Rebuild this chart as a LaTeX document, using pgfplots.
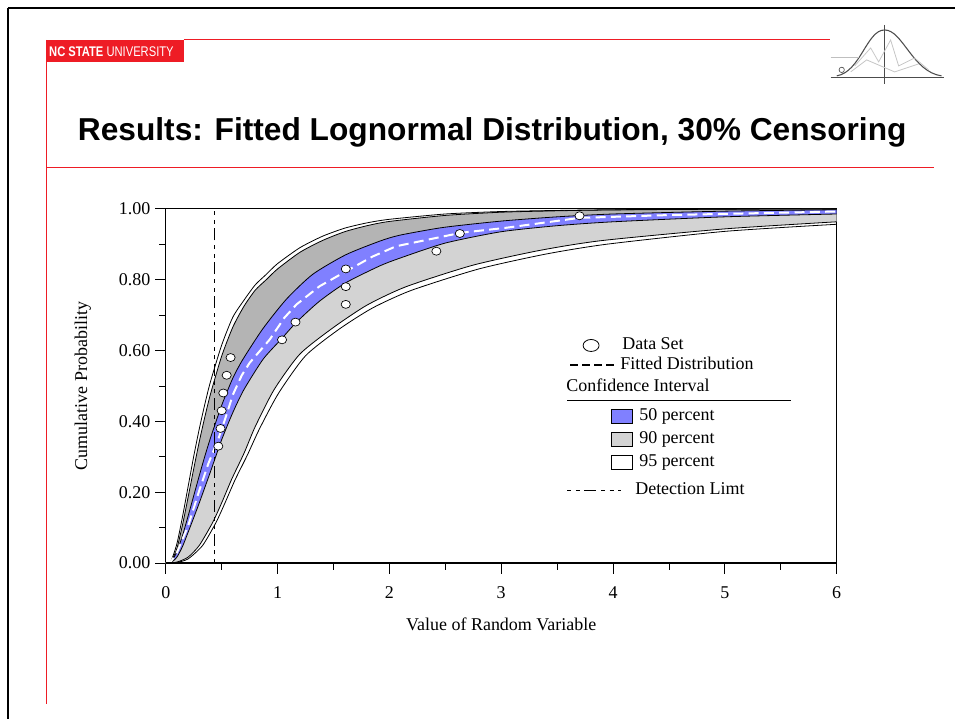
\documentclass[border=0pt]{standalone}
\usepackage{fontspec}
\setmainfont{Liberation Serif}
\newfontfamily\arialfont{Liberation Sans}
\usepackage{graphicx}
\usepackage{xcolor}
\usepackage{pgfplots}
\pgfplotsset{compat=1.18}
\usepgfplotslibrary{fillbetween}
\pagecolor{white}

\definecolor{bandblue}{HTML}{8080FF}
\definecolor{banddark}{HTML}{B4B4B4}
\definecolor{bandlight}{HTML}{D3D3D3}
\definecolor{ncred}{HTML}{EE1C25}

\tikzset{detlim/.style={black, line width=0.75pt, dash pattern=on 3pt off 3.5pt on 3pt off 3.5pt on 9pt off 3.5pt}}
\pgfplotsset{band/.style={black, line width=0.6pt, smooth, tension=0.4}}

\begin{document}
\begin{tikzpicture}
\path (0,0) rectangle (717pt,540pt);

% slide decorations, in pixel coordinates
\begin{scope}[yshift=540pt, x=0.75pt, y=-0.75pt]
  \draw[black, line width=2.2pt] (8,8) -- (956,8);
  \draw[black, line width=2.2pt] (8,8) -- (8,720);
  \draw[ncred, line width=0.8pt] (47,40) -- (47,705);
  \draw[ncred, line width=0.8pt] (184,40) -- (831,40);
  \draw[ncred, line width=0.8pt] (47,168) -- (935,168);
  \fill[ncred] (47,40) rectangle (184,62);
  \node[anchor=west, inner sep=0, text=white, font=\arialfont\fontsize{10.5}{12}\selectfont]
    at (49,51.5) {\scalebox{0.8}[1]{\textbf{NC STATE} UNIVERSITY}};
  % logo
  \draw[gray!60!black, line width=0.6pt] (832,78) -- (945,78);
  \draw[gray!60!black, line width=0.6pt] (886,25) -- (886,84);
  \draw[gray!60!black, line width=0.8pt] (838,76) .. controls (862,72) and (868,30) .. (886,30)
        .. controls (904,30) and (914,72) .. (943,76);
  \draw[gray!50, line width=0.5pt] (832,57) -- (860,57);
  \draw[gray!60!black, line width=0.5pt] (843,70) circle (2pt);
  \draw[gray!45, line width=0.6pt] (856,66) -- (872,48) -- (880,62) -- (892,40) -- (900,66) -- (916,58) -- (930,70);
  \draw[gray!45, line width=0.6pt] (852,72) -- (868,60) -- (896,72) -- (920,64);
  % title
  \node[anchor=base, inner sep=0, font=\arialfont\bfseries\fontsize{23.8}{28}\selectfont]
    at (493,141) {Results: Fitted Lognormal Distribution, 30\% Censoring};
\end{scope}

\begin{axis}[
  at={(124.5pt,117pt)}, anchor=south west,
  scale only axis, width=504pt, height=266.25pt,
  xmin=0, xmax=6, ymin=0, ymax=1,
  xtick={0,1,2,3,4,5,6}, minor xtick={0.5,1.5,2.5,3.5,4.5,5.5},
  ytick={0,0.2,0.4,0.6,0.8,1}, minor ytick={0.1,0.3,0.5,0.7,0.9},
  tick align=outside, xtick pos=bottom, ytick pos=left,
  major tick length=8pt, minor tick length=5pt,
  tick style={black, line width=0.6pt},
  /pgf/number format/assume math mode=true,
  yticklabel style={/pgf/number format/.cd, fixed, fixed zerofill, precision=2},
  xticklabel style={yshift=-6pt},
  tick label style={font=\fontsize{13.5}{16}\selectfont},
  label style={font=\fontsize{13.5}{16}\selectfont},
  xlabel={Value of Random Variable},
  ylabel={Cumulative Probability},
  xlabel style={at={(axis description cs:0.5,-0.172)}, anchor=center},
  ylabel style={at={(axis description cs:-0.1235,0.5)}, anchor=center},
  axis line style={black, line width=0.75pt},
]
% 95% upper
\addplot[name path=A, band] coordinates {
 (0,0) (0.02,0.0002) (0.05,0.008) (0.1,0.055) (0.15,0.131) (0.2,0.216) (0.25,0.301)
 (0.3,0.379) (0.35,0.449) (0.4,0.512) (0.5,0.615) (0.6,0.694) (0.7,0.742) (0.8,0.785)
 (0.9,0.815) (1.0,0.845) (1.2,0.89) (1.4,0.922) (1.6,0.945) (1.8,0.96) (2.0,0.97)
 (2.5,0.985) (3.0,0.992) (3.5,0.995) (4.0,0.997) (5.0,0.9987) (6.0,0.9994)};
% 90% upper
\addplot[name path=B, band] coordinates {
 (0,0) (0.02,0.0001) (0.05,0.005) (0.1,0.042) (0.15,0.108) (0.2,0.186) (0.25,0.266)
 (0.3,0.343) (0.35,0.413) (0.4,0.477) (0.5,0.584) (0.6,0.666) (0.7,0.725) (0.8,0.77)
 (0.9,0.80) (1.0,0.83) (1.2,0.877) (1.4,0.91) (1.6,0.935) (1.8,0.952) (2.0,0.964)
 (2.5,0.981) (3.0,0.99) (3.5,0.994) (4.0,0.9965) (5.0,0.9985) (6.0,0.9993)};
% 50% upper
\addplot[name path=C, band] coordinates {
 (0,0) (0.02,0.0002) (0.05,0.0048) (0.1,0.032) (0.15,0.078) (0.2,0.133) (0.25,0.190)
 (0.3,0.247) (0.35,0.302) (0.4,0.353) (0.5,0.445) (0.6,0.522) (0.69,0.575) (0.87,0.662)
 (1.08,0.745) (1.315,0.815) (1.61,0.870) (1.91,0.908) (2.09,0.925) (2.48,0.947)
 (3.0,0.965) (3.5,0.977) (4.0,0.985) (5.0,0.993) (6.0,0.997)};
% 50% lower
\addplot[name path=D, band] coordinates {
 (0,0) (0.02,0.0001) (0.05,0.002) (0.1,0.017) (0.15,0.047) (0.2,0.087) (0.25,0.128)
 (0.3,0.170) (0.35,0.214) (0.4,0.258) (0.5,0.348) (0.6,0.425) (0.7,0.49) (0.87,0.575)
 (1.03,0.631) (1.17,0.68) (1.375,0.739) (1.61,0.791) (1.91,0.838) (2.09,0.86)
 (2.5,0.903) (3.0,0.935) (3.5,0.952) (4.0,0.963) (5.0,0.977) (6.0,0.985)};
% 90% lower
\addplot[name path=E, band] coordinates {
 (0,0) (0.1,0.003) (0.2,0.017) (0.3,0.05) (0.42,0.115) (0.5,0.17) (0.59,0.237)
 (0.7,0.31) (0.8,0.385) (0.97,0.49) (1.2,0.59) (1.5,0.665) (1.8,0.728) (2.15,0.78)
 (2.74,0.84) (3.34,0.882) (3.9,0.91) (5.0,0.943) (6.0,0.963)};
% 95% lower
\addplot[name path=F, band] coordinates {
 (0,0) (0.1,0.002) (0.2,0.012) (0.33,0.05) (0.45,0.115) (0.53,0.17) (0.62,0.235)
 (0.73,0.305) (0.84,0.38) (1.01,0.48) (1.25,0.585) (1.55,0.66) (1.85,0.72) (2.2,0.77)
 (2.8,0.83) (3.4,0.872) (3.95,0.90) (5.0,0.936) (6.0,0.956)};

\addplot[banddark, draw=none] fill between[of=B and C];
\addplot[bandblue, draw=none] fill between[of=C and D];
\addplot[bandlight, draw=none] fill between[of=D and E];

% fitted distribution
\addplot[white, line width=1.5pt, dash pattern=on 7.5pt off 4pt] coordinates {
 (0,0) (0.05,0.006) (0.1,0.03) (0.2,0.105) (0.3,0.205) (0.38,0.28) (0.47,0.35)
 (0.55,0.425) (0.60,0.475) (0.68,0.53) (0.75,0.565) (0.93,0.631) (1.06,0.692)
 (1.17,0.73) (1.375,0.781) (1.61,0.823) (1.85,0.865) (2.06,0.894) (2.64,0.932)
 (3.04,0.946) (3.7,0.974) (4.5,0.982) (6,0.992)};

% detection limit
\addplot[detlim] coordinates {(0.44,0) (0.44,1)};

% data set
\addplot[only marks, mark=*, mark size=3pt,
  mark options={fill=white, draw=black, line width=0.5pt, xscale=1.15}] coordinates {
 (0.47,0.33) (0.49,0.38) (0.50,0.43) (0.515,0.48) (0.545,0.53) (0.58,0.58)
 (1.04,0.63) (1.16,0.68) (1.61,0.73) (1.61,0.78) (1.61,0.83) (2.42,0.88)
 (2.63,0.93) (3.70,0.98)};

\draw[black, line width=1.5pt] (rel axis cs:0,0) -- (rel axis cs:1,0);
\end{axis}

% legend
\begin{scope}[yshift=540pt, x=0.75pt, y=-0.75pt,
  every node/.style={inner sep=0, anchor=west, font=\fontsize{13.5}{16}\selectfont, text height=1.6ex, text depth=0.3ex}]
  \draw[black, line width=0.6pt] (592,346) ellipse (6pt and 4.5pt);
  \node at (623,346) {Data Set};
  \draw[black, line width=1.5pt, dash pattern=on 6pt off 3pt] (571,366) -- (618,366);
  \node at (621,366) {Fitted Distribution};
  \node at (567,388) {Confidence Interval};
  \draw[black, line width=0.6pt] (568,401) -- (792,401);
  \draw[black, line width=0.6pt, fill=bandblue] (612,410) rectangle (633,424);
  \node at (640,417) {50 percent};
  \draw[black, line width=0.6pt, fill=bandlight] (612,433) rectangle (633,447);
  \node at (640,440) {90 percent};
  \draw[black, line width=0.6pt, fill=white] (612,456) rectangle (633,470);
  \node at (640,463) {95 percent};
  \draw[detlim] (568,491) -- (622,491);
  \node at (636,491) {Detection Limt};
\end{scope}
\end{tikzpicture}
\end{document}
